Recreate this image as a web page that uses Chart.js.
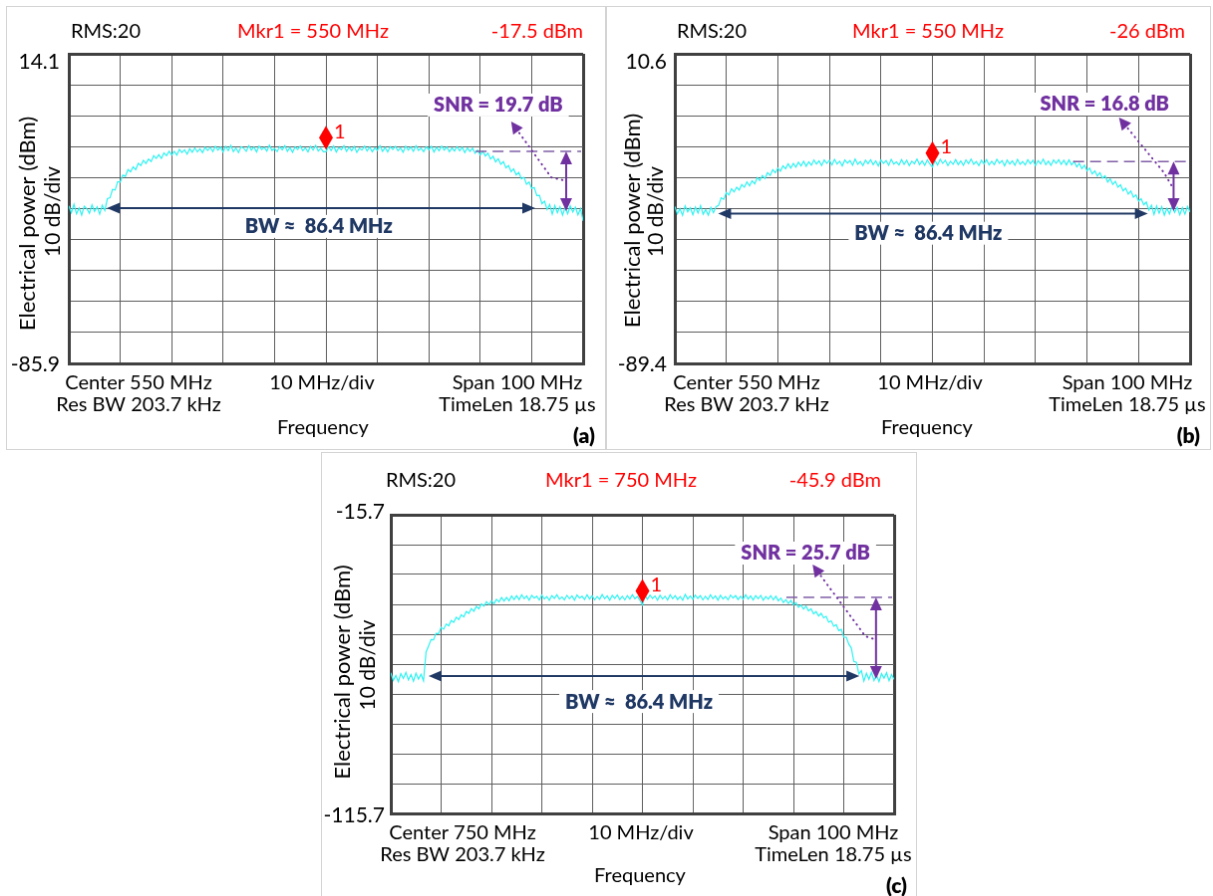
<!DOCTYPE html>
<html lang="en">
<head>
<meta charset="UTF-8">
<title>Spectrum analyzer traces (a) (b) (c)</title>
<script src="https://cdn.jsdelivr.net/npm/chart.js"></script>
<style>
  body { margin: 0; background: #fff; }
  .panel { position: absolute; border: 1px solid #d4d4d4; background: #fff; }
</style>
</head>
<body>
<canvas id="chartA" class="panel"></canvas>
<canvas id="chartB" class="panel"></canvas>
<canvas id="chartC" class="panel"></canvas>

<script>
// sample points across the 100 MHz span, MHz from the left edge of the screen
var offsetMHz = [0,0.5,1,1.5,2,2.5,3,3.5,4,4.5,5,5.5,6,6.5,7,7.5,8,8.5,9,9.5,10,10.5,11,11.5,12,12.5,13,13.5,14,14.5,
  15,15.5,16,16.5,17,17.5,18,18.5,19,19.5,20,20.5,21,21.5,22,22.5,23,23.5,24,24.5,25,25.5,26,26.5,27,27.5,28,28.5,29,29.5,
  30,30.5,31,31.5,32,32.5,33,33.5,34,34.5,35,35.5,36,36.5,37,37.5,38,38.5,39,39.5,40,40.5,41,41.5,42,42.5,43,43.5,44,44.5,
  45,45.5,46,46.5,47,47.5,48,48.5,49,49.5,50,50.5,51,51.5,52,52.5,53,53.5,54,54.5,55,55.5,56,56.5,57,57.5,58,58.5,59,59.5,
  60,60.5,61,61.5,62,62.5,63,63.5,64,64.5,65,65.5,66,66.5,67,67.5,68,68.5,69,69.5,70,70.5,71,71.5,72,72.5,73,73.5,74,74.5,
  75,75.5,76,76.5,77,77.5,78,78.5,79,79.5,80,80.5,81,81.5,82,82.5,83,83.5,84,84.5,85,85.5,86,86.5,87,87.5,88,88.5,89,89.5,
  90,90.5,91,91.5,92,92.5,93,93.5,94,94.5,95,95.5,96,96.5,97,97.5,98,98.5,99,99.5,100];

// traces in dBm
var traceA = [-35.0,-37.2,-34.5,-37.6,-35.7,-38.0,-35.1,-35.9,-37.4,-34.7,-36.8,-35.3,-37.7,-34.8,-36.5,-32.7,-32.4,-29.7,-29.9,-27.2,
  -27.3,-25.1,-25.5,-23.3,-24.0,-22.4,-23.3,-21.3,-22.0,-20.3,-21.3,-19.9,-20.7,-18.8,-19.7,-18.5,-19.7,-17.9,-18.8,-17.4,
  -18.6,-17.4,-18.6,-16.8,-17.8,-16.9,-18.3,-16.6,-17.7,-16.3,-17.6,-16.6,-17.8,-16.1,-17.1,-16.1,-17.5,-15.8,-17.0,-16.0,
  -17.6,-15.8,-17.2,-15.5,-17.5,-16.3,-17.8,-15.9,-16.4,-17.4,-15.6,-17.0,-16.0,-17.6,-15.7,-16.8,-16.1,-17.3,-15.4,-17.1,
  -16.5,-17.5,-15.9,-16.9,-15.6,-17.4,-16.2,-17.7,-16.0,-16.8,-15.7,-17.2,-16.3,-17.6,-15.8,-17.0,-15.5,-17.3,-16.4,-17.5,
  -17.5,-15.9,-17.1,-15.7,-17.6,-16.2,-16.9,-15.6,-17.4,-16.1,-17.2,-15.8,-17.7,-16.4,-17.0,-15.7,-17.3,-16.0,-17.5,-16.3,
  -17.1,-15.6,-17.4,-16.2,-17.6,-15.9,-16.8,-15.8,-17.2,-16.3,-17.7,-15.7,-17.0,-16.0,-17.4,-15.6,-17.1,-16.4,-17.5,-15.9,
  -16.9,-15.8,-17.6,-16.1,-17.2,-15.7,-17.0,-16.0,-17.5,-16.3,-17.3,-15.9,-17.2,-16.1,-17.8,-16.3,-17.4,-16.4,-18.0,-17.0,
  -18.6,-17.4,-18.9,-18.0,-19.9,-19.0,-20.8,-19.8,-21.6,-20.7,-22.7,-22.0,-24.0,-23.1,-25.0,-24.2,-26.3,-25.8,-28.0,-27.3,
  -29.4,-29.1,-31.7,-31.6,-34.3,-33.5,-36.2,-34.6,-37.7,-34.9,-37.2,-35.3,-38.0,-35.5,-37.6,-35.0,-37.0,-35.4,-37.9,-35.9,
  -39.9];
var traceB = [-38.7,-41.1,-39.4,-41.6,-38.5,-40.4,-39.1,-41.4,-38.9,-40.8,-38.4,-41.2,-39.7,-41.5,-39.0,-40.7,-38.8,-38.3,-35.9,-36.4,
  -34.2,-35.0,-33.0,-34.0,-32.5,-33.4,-31.6,-32.5,-30.8,-32.0,-30.4,-31.4,-29.4,-30.3,-28.7,-29.7,-27.8,-28.7,-26.8,-27.8,
  -26.3,-27.3,-25.6,-26.5,-24.9,-26.3,-24.8,-26.0,-24.4,-25.6,-24.1,-25.7,-24.3,-25.4,-23.7,-25.0,-24.0,-25.5,-23.7,-24.8,
  -23.8,-25.3,-23.5,-25.0,-24.1,-25.6,-23.7,-24.7,-23.9,-25.4,-23.4,-25.1,-24.2,-25.5,-23.8,-24.9,-23.6,-25.2,-24.0,-25.6,
  -23.7,-24.8,-23.9,-25.4,-23.5,-25.0,-24.3,-25.3,-23.6,-25.1,-23.8,-25.5,-24.1,-24.9,-23.4,-25.2,-24.0,-25.4,-23.7,-25.0,
  -26.0,-23.9,-25.3,-23.5,-24.8,-23.8,-25.5,-24.1,-25.1,-23.6,-25.2,-24.0,-25.4,-23.7,-24.9,-23.4,-25.1,-24.2,-25.5,-23.8,
  -25.0,-23.6,-25.3,-24.1,-25.2,-23.5,-24.8,-23.9,-25.6,-23.7,-25.0,-24.0,-25.4,-23.5,-25.1,-24.2,-25.3,-23.6,-24.9,-23.8,
  -25.5,-23.9,-25.0,-23.4,-25.2,-24.1,-25.4,-23.7,-24.8,-23.6,-25.1,-23.8,-25.3,-23.7,-25.3,-24.2,-25.9,-24.8,-26.5,-25.4,
  -27.2,-26.3,-28.2,-27.2,-28.9,-27.8,-29.6,-28.8,-30.8,-29.8,-31.6,-30.6,-32.5,-31.7,-33.7,-32.8,-34.7,-33.7,-35.7,-35.0,
  -37.0,-36.2,-38.2,-37.3,-39.9,-38.3,-41.3,-38.6,-40.9,-38.8,-41.5,-39.3,-41.1,-38.5,-40.6,-39.0,-41.4,-39.1,-41.2,-38.7,
  -40.5];
var traceC = [-68.6,-71.2,-69.5,-71.6,-68.9,-70.5,-68.5,-71.0,-69.2,-71.4,-68.8,-70.7,-69.1,-71.3,-61.7,-59.6,-57.5,-57.6,-55.4,-55.5,
  -53.4,-54.0,-52.3,-52.9,-51.1,-51.7,-50.0,-50.8,-49.2,-49.9,-48.1,-48.7,-47.1,-48.0,-46.4,-47.2,-45.5,-46.3,-44.8,-45.8,
  -44.5,-45.5,-44.0,-44.9,-43.4,-44.6,-43.4,-44.5,-42.9,-44.1,-42.8,-44.1,-42.5,-43.8,-42.9,-44.3,-42.7,-43.6,-43.0,-44.2,
  -42.6,-43.9,-43.1,-44.3,-42.8,-43.7,-42.5,-44.0,-43.2,-44.2,-42.7,-43.8,-42.9,-44.3,-42.6,-43.6,-43.0,-44.1,-42.5,-43.9,
  -42.8,-44.2,-43.1,-44.0,-42.4,-43.8,-42.9,-44.3,-42.7,-43.7,-42.6,-44.1,-43.0,-44.2,-42.8,-43.9,-42.5,-43.8,-43.1,-44.3,
  -45.9,-42.8,-44.0,-42.6,-43.7,-42.9,-44.3,-42.7,-43.9,-43.0,-44.2,-42.5,-43.8,-42.8,-44.1,-43.1,-44.3,-42.4,-43.9,-42.9,
  -44.0,-42.6,-43.7,-42.8,-44.2,-43.0,-44.1,-42.5,-43.8,-42.9,-44.3,-42.7,-43.9,-43.1,-44.2,-42.6,-43.6,-42.8,-44.1,-43.0,
  -44.0,-42.5,-43.9,-42.9,-44.2,-42.8,-43.8,-42.7,-44.3,-43.1,-44.0,-42.8,-44.2,-43.0,-44.5,-43.6,-45.1,-44.1,-45.4,-44.4,
  -45.9,-45.1,-46.7,-45.9,-47.3,-46.3,-47.9,-47.2,-48.9,-48.1,-49.6,-48.7,-50.2,-49.7,-51.7,-51.2,-53.0,-52.5,-54.5,-54.1,
  -56.7,-56.7,-59.0,-60.3,-64.8,-65.1,-69.0,-67.9,-71.4,-68.8,-70.8,-68.5,-71.2,-69.4,-71.6,-68.9,-70.4,-68.6,-71.3,-69.2,
  -70.9];
var traces = [traceA, traceB, traceC];

// instrument settings shown on each screen
var centerMHz = [550, 550, 750];
var spanMHz = 100;
var divMHz = 10;
var refLevel = [14.1, 10.6, -15.7];   // dBm at the top of the screen
var dbPerDiv = 10;
var rmsAvg = [20, 20, 20];
var resBwKHz = 203.7;
var timeLenUs = 18.75;
var panelTags = ['(a)', '(b)', '(c)'];

// marker 1 (at the centre frequency)
var markerOffset = [50, 50, 50];
var markerDbm = [-17.5, -26, -45.9];

// bandwidth annotation
var bwMHz = [86.4, 86.4, 86.4];
var bwFrom = [7.4, 8.4, 7.5];
var bwTo = [90.7, 91.8, 93.1];
var bwLevel = [-35.7, -41.0, -69.7];
var bwLabelOffset = [48.6, 49.2, 49.3];
var bwLabelDbm = [-41.8, -47.5, -78.4];

// SNR annotation
var snrDb = [19.7, 16.8, 25.7];
var snrFrom = [79.1, 77.3, 78.6];
var snrLevel = [-17.4, -24.2, -43.4];
var snrArrowAt = [96.7, 96.8, 96.4];
var noiseLevel = [-36.7, -40.2, -70.7];
var snrLabelOffset = [83.5, 83.4, 82.4];
var snrLabelDbm = [-2.6, -5.8, -28.7];
var pointerOffset = [[86.0, 93.8, 96.1], [86.2, 94.9, 96.5], [83.8, 94.3, 96.2]];
var pointerDbm = [[-7.8, -25.8, -26.7], [-10.0, -27.7, -32.2], [-32.4, -56.4, -57.4]];

// page layout, in page pixels
var layouts = [
  { id: 'chartA', box: [6, 6, 607, 451], area: [69, 54, 585, 365], headY: 32, rmsX: 106, mkrX: 314, ampR: 585,
    yLabR: 60, yTopY: 62, yBotY: 366, title1X: 28, title2X: 53, title1Dy: 15, title2Dy: 3,
    col1X: 139, col2X: 323, col3X: 519, row1Y: 385, row2Y: 407, freqX: 324, freqY: 430, tagR: 597, tagY: 438 },
  { id: 'chartB', box: [606, 6, 1212, 451], area: [675, 54, 1192, 365], headY: 32, rmsX: 712, mkrX: 929, ampR: 1187,
    yLabR: 667, yTopY: 62, yBotY: 366, title1X: 633, title2X: 656, title1Dy: 12, title2Dy: 3,
    col1X: 747, col2X: 931, col3X: 1129, row1Y: 385, row2Y: 407, freqX: 928, freqY: 430, tagR: 1202, tagY: 438 },
  { id: 'chartC', box: [321, 452, 918, 904], area: [391, 515, 896, 815], headY: 481, rmsX: 421, mkrX: 622, ampR: 883,
    yLabR: 385, yTopY: 512, yBotY: 817, title1X: 343, title2X: 368, title1Dy: 8, title2Dy: 1,
    col1X: 463, col2X: 642, col3X: 835, row1Y: 835, row2Y: 857, freqX: 641, freqY: 878, tagR: 909, tagY: 888 }
];

var FONT = 'Lato, "Open Sans", sans-serif';
var RED = '#ff0000', PURPLE = '#7030a0', NAVY = '#1f3864';

function head(ctx, x, y, angle, len, half) {
  ctx.save();
  ctx.translate(x, y);
  ctx.rotate(angle);
  ctx.beginPath();
  ctx.moveTo(0, 0);
  ctx.lineTo(-len, -half);
  ctx.lineTo(-len, half);
  ctx.closePath();
  ctx.fill();
  ctx.restore();
}

function boxedText(ctx, text, x, y, color) {
  var w = ctx.measureText(text).width;
  ctx.fillStyle = '#fff';
  ctx.fillRect(x - w / 2 - 6, y - 12, w + 12, 23);
  ctx.fillStyle = color;
  ctx.fillText(text, x, y);
}

var decor = {
  id: 'decor',
  afterDraw: function(chart, args, opts) {
    var i = opts.index, L = layouts[i], ctx = chart.ctx;
    var ox = L.box[0] + 1, oy = L.box[1] + 1;
    var start = centerMHz[i] - spanMHz / 2;
    var xs = chart.scales.x, ys = chart.scales.y, ca = chart.chartArea;
    var X = function(off) { return xs.getPixelForValue(start + off); };
    var Y = function(v) { return ys.getPixelForValue(v); };

    ctx.save();
    ctx.textBaseline = 'middle';

    // header
    ctx.font = '20px ' + FONT;
    ctx.textAlign = 'center';
    ctx.fillStyle = '#000';
    ctx.fillText('RMS:' + rmsAvg[i], L.rmsX - ox, L.headY - oy);
    ctx.fillStyle = RED;
    ctx.fillText('Mkr1 = ' + centerMHz[i] + ' MHz', L.mkrX - ox, L.headY - oy);
    ctx.textAlign = 'right';
    ctx.fillText(markerDbm[i] + ' dBm', L.ampR - ox, L.headY - oy);

    // y axis end labels
    ctx.font = '21px ' + FONT;
    ctx.fillStyle = '#000';
    ctx.fillText(refLevel[i].toFixed(1), L.yLabR - ox, L.yTopY - oy);
    ctx.fillText((refLevel[i] - dbPerDiv * 10).toFixed(1), L.yLabR - ox, L.yBotY - oy);

    // y axis title
    var midY = (ca.top + ca.bottom) / 2;
    ctx.textAlign = 'center';
    ctx.save();
    ctx.translate(L.title1X - ox, midY + L.title1Dy);
    ctx.rotate(-Math.PI / 2);
    ctx.font = '22px ' + FONT;
    ctx.fillText('Electrical power (dBm)', 0, 0);
    ctx.restore();
    ctx.save();
    ctx.translate(L.title2X - ox, midY + L.title2Dy);
    ctx.rotate(-Math.PI / 2);
    ctx.font = '21px ' + FONT;
    ctx.fillText(dbPerDiv + ' dB/div', 0, 0);
    ctx.restore();

    // bottom settings
    ctx.font = '20px ' + FONT;
    ctx.fillText('Center ' + centerMHz[i] + ' MHz', L.col1X - ox, L.row1Y - oy);
    ctx.fillText('Res BW ' + resBwKHz + ' kHz', L.col1X - ox, L.row2Y - oy);
    ctx.fillText(divMHz + ' MHz/div', L.col2X - ox, L.row1Y - oy);
    ctx.fillText('Span ' + spanMHz + ' MHz', L.col3X - ox, L.row1Y - oy);
    ctx.fillText('TimeLen ' + timeLenUs + ' \u00b5s', L.col3X - ox, L.row2Y - oy);
    ctx.fillText('Frequency', L.freqX - ox, L.freqY - oy);
    ctx.font = '800 21px ' + FONT;
    ctx.textAlign = 'right';
    ctx.fillText(panelTags[i], L.tagR - ox, L.tagY - oy);

    // bandwidth arrow
    var by = Y(bwLevel[i]), bx1 = X(bwFrom[i]), bx2 = X(bwTo[i]);
    ctx.strokeStyle = NAVY;
    ctx.fillStyle = NAVY;
    ctx.lineWidth = 2;
    ctx.beginPath();
    ctx.moveTo(bx1 + 10, by);
    ctx.lineTo(bx2 - 10, by);
    ctx.stroke();
    head(ctx, bx1, by, Math.PI, 13, 5.5);
    head(ctx, bx2, by, 0, 13, 5.5);
    ctx.font = '800 20px ' + FONT;
    ctx.textAlign = 'center';
    boxedText(ctx, 'BW \u2248  ' + bwMHz[i] + ' MHz', X(bwLabelOffset[i]), Y(bwLabelDbm[i]), NAVY);

    // SNR reference level, dashed
    var sy = Y(snrLevel[i]);
    ctx.strokeStyle = '#8060a8';
    ctx.lineWidth = 1.5;
    ctx.setLineDash([11, 6]);
    ctx.beginPath();
    ctx.moveTo(X(snrFrom[i]), sy);
    ctx.lineTo(ca.right - 2, sy);
    ctx.stroke();
    ctx.setLineDash([]);

    // SNR double arrow
    var ax = X(snrArrowAt[i]), ny = Y(noiseLevel[i]);
    ctx.strokeStyle = PURPLE;
    ctx.fillStyle = PURPLE;
    ctx.lineWidth = 2;
    ctx.beginPath();
    ctx.moveTo(ax, sy + 10);
    ctx.lineTo(ax, ny - 10);
    ctx.stroke();
    head(ctx, ax, sy, -Math.PI / 2, 13, 6);
    head(ctx, ax, ny, Math.PI / 2, 13, 6);

    // dotted pointer to the label
    var px = pointerOffset[i].map(X), py = pointerDbm[i].map(Y);
    var ang = Math.atan2(py[0] - py[1], px[0] - px[1]);
    ctx.lineWidth = 2;
    ctx.lineCap = 'round';
    ctx.setLineDash([0.5, 5]);
    ctx.beginPath();
    ctx.moveTo(px[0] - 14 * Math.cos(ang), py[0] - 14 * Math.sin(ang));
    ctx.lineTo(px[1], py[1]);
    ctx.lineTo(px[2], py[2]);
    ctx.stroke();
    ctx.setLineDash([]);
    ctx.lineCap = 'butt';
    head(ctx, px[0], py[0], ang, 12, 6);

    ctx.font = '800 20px ' + FONT;
    ctx.textAlign = 'center';
    boxedText(ctx, 'SNR = ' + snrDb[i] + ' dB', X(snrLabelOffset[i]), Y(snrLabelDbm[i]), PURPLE);

    // marker 1
    var mx = X(markerOffset[i]), my = Y(markerDbm[i]) - 2;
    ctx.fillStyle = RED;
    ctx.beginPath();
    ctx.moveTo(mx, my);
    ctx.lineTo(mx + 7, my - 12);
    ctx.lineTo(mx, my - 24);
    ctx.lineTo(mx - 7, my - 12);
    ctx.closePath();
    ctx.fill();
    ctx.font = '20px ' + FONT;
    ctx.textAlign = 'left';
    ctx.fillText('1', mx + 8, my - 18);

    ctx.restore();
  }
};

function edgeWidth(c) { return (c.index === 0 || c.index === 10) ? 3 : 1; }
function edgeColor(c) { return (c.index === 0 || c.index === 10) ? '#404040' : '#5f5f5f'; }

function makeChart(i) {
  var L = layouts[i];
  var canvas = document.getElementById(L.id);
  var w = L.box[2] - L.box[0] - 1, h = L.box[3] - L.box[1] - 1;
  var ox = L.box[0] + 1, oy = L.box[1] + 1;
  canvas.width = w;
  canvas.height = h;
  canvas.style.left = L.box[0] + 'px';
  canvas.style.top = L.box[1] + 'px';
  canvas.style.width = w + 'px';
  canvas.style.height = h + 'px';

  var start = centerMHz[i] - spanMHz / 2;
  var xTicks = [], yTicks = [];
  for (var k = 0; k <= 10; k++) {
    xTicks.push(start + k * divMHz);
    yTicks.push(refLevel[i] - (10 - k) * dbPerDiv);
  }
  var points = offsetMHz.map(function(f, j) { return { x: start + f, y: traces[i][j] }; });

  new Chart(canvas.getContext('2d'), {
    type: 'line',
    data: {
      datasets: [{
        data: points,
        borderColor: '#2ff2f2',
        borderWidth: 1.2,
        pointRadius: 0,
        tension: 0
      }]
    },
    options: {
      responsive: false,
      animation: false,
      events: [],
      layout: {
        autoPadding: false,
        padding: { left: L.area[0] - ox, top: L.area[1] - oy, right: ox + w - L.area[2], bottom: oy + h - L.area[3] }
      },
      plugins: { legend: { display: false }, tooltip: { enabled: false }, decor: { index: i } },
      scales: {
        x: {
          type: 'linear', min: start, max: start + spanMHz,
          ticks: { display: false },
          grid: { drawTicks: false, color: edgeColor, lineWidth: edgeWidth },
          border: { color: '#404040', width: 3 },
          afterBuildTicks: function(s) { s.ticks = xTicks.map(function(v) { return { value: v }; }); }
        },
        y: {
          type: 'linear', min: yTicks[0], max: yTicks[10],
          ticks: { display: false },
          grid: { drawTicks: false, color: edgeColor, lineWidth: edgeWidth },
          border: { color: '#404040', width: 3 },
          afterBuildTicks: function(s) { s.ticks = yTicks.map(function(v) { return { value: v }; }); }
        }
      }
    },
    plugins: [decor]
  });
}

makeChart(0);
makeChart(1);
makeChart(2);
</script>
</body>
</html>
